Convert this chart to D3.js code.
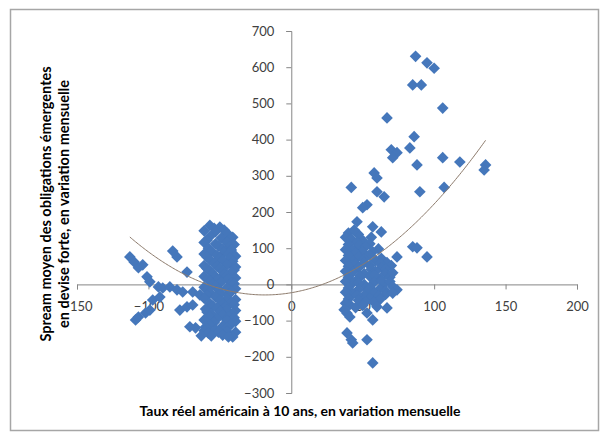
<!DOCTYPE html>
<html>
<head>
<meta charset="utf-8">
<script src="https://d3js.org/d3.v7.min.js"></script>
<style>
  body { margin: 0; background: #fff; }
  text { font-family: Lato, "Open Sans", sans-serif; }
</style>
</head>
<body>
<div id="graph1"></div>
<script>
// x = taux réel US 10 ans (variation mensuelle), y = spread EM (variation mensuelle)
const leftScatter = [
  [-113, 76], [-110, 62], [-107, 46], [-104, 54], [-101, 21], [-99, 7],
  [-83, 92], [-80, 76], [-73, 34],
  [-93, -7], [-90, -10], [-85, -7], [-80, -15], [-76, -21], [-69, -21], [-64, -29],
  [-109, -98], [-107, -90], [-102, -79], [-99, -71],
  [-97, -43], [-92, -35], [-78, -71], [-73, -62], [-69, -57],
  [-67, -120], [-71, -117]
]

const leftMass = [
  [-57, 163], [-50, 158], [-54, 155], [-47, 150],
  [-61, 148], [-53, 146], [-45, 142],
  [-57, 132], [-49, 128], [-41, 130], [-43, 125], [-59, 122],
  [-61, 116], [-53, 112], [-45, 116], [-40, 110], [-51, 106], [-43, 104],
  [-58, 100], [-48, 98], [-42, 95], [-56, 92], [-47, 88],
  [-61, 84], [-52, 80], [-44, 84], [-39, 78], [-59, 76], [-50, 72], [-43, 72],
  [-57, 68], [-48, 66], [-41, 64], [-54, 58], [-42, 56],
  [-61, 52], [-52, 50], [-45, 54], [-39, 48], [-59, 44], [-50, 44], [-40, 40],
  [-57, 38], [-48, 36], [-42, 34], [-55, 30], [-47, 28],
  [-61, 22], [-53, 20], [-45, 24], [-39, 18], [-58, 14], [-51, 14], [-44, 14],
  [-57, 8], [-49, 6], [-42, 4], [-40, 2], [-55, 0],
  [-61, -8], [-53, -5], [-45, -10], [-39, -12], [-59, -16], [-51, -14],
  [-57, -22], [-49, -25], [-42, -20], [-44, -28], [-59, -30],
  [-61, -38], [-53, -35], [-45, -40], [-39, -42], [-50, -44],
  [-57, -52], [-48, -55], [-42, -50], [-40, -56], [-55, -60], [-46, -62],
  [-60, -68], [-52, -65], [-45, -70], [-39, -72], [-59, -76], [-50, -75],
  [-56, -82], [-48, -85], [-41, -80], [-44, -90], [-57, -90], [-40, -92],
  [-61, -98], [-52, -95], [-45, -100], [-39, -102], [-54, -105],
  [-57, -112], [-48, -115], [-42, -110], [-60, -118], [-45, -120],
  [-61, -128], [-53, -125], [-45, -130], [-39, -132], [-51, -132], [-58, -135],
  [-56, -142], [-48, -140], [-41, -145], [-44, -145], [-63, -142]
]

const rightMass = [
  [40, 142], [47, 138], [44, 150], [38, 130],
  [42, 126], [50, 122], [56, 130], [46, 116],
  [40, 110], [47, 106], [55, 112], [52, 104],
  [43, 95], [50, 90], [61, 98], [38, 96], [57, 90], [45, 86],
  [40, 80], [47, 76], [55, 82], [63, 72], [51, 70],
  [43, 64], [51, 60], [59, 66], [67, 60], [38, 66], [62, 58], [45, 56],
  [40, 50], [47, 46], [55, 52], [63, 46], [70, 52], [56, 42], [66, 42],
  [43, 34], [51, 30], [59, 36], [66, 30], [38, 36],
  [40, 20], [47, 16], [55, 22], [62, 16], [69, 20], [48, 24], [58, 26],
  [43, 4], [51, 0], [58, 6], [65, 2], [38, 8], [47, 4], [63, 10], [69, 8],
  [40, -10], [47, -14], [55, -8], [62, -12], [71, -6], [54, -16], [66, -18],
  [43, -26], [51, -30], [58, -24], [66, -28], [38, -22], [46, -30], [61, -32],
  [40, -40], [47, -44], [55, -38], [62, -42], [52, -48], [58, -50],
  [41, -56], [50, -58], [38, -52], [45, -64], [39, -80]
]

const rightScatter = [
  [87, 630], [95, 612], [100, 597], [85, 551], [91, 551], [106, 487],
  [67, 460], [86, 408], [70, 372], [74, 364], [71, 350], [83, 377],
  [106, 350], [118, 338], [136, 330], [135, 316], [88, 330],
  [58, 308], [60, 294], [42, 268], [107, 268], [60, 256], [65, 242], [90, 256],
  [53, 220], [50, 212], [46, 173], [57, 159], [63, 145],
  [85, 104], [88, 101], [74, 76], [95, 76], [71, 32], [74, -15], [71, -24],
  [37, -70], [41, -90], [53, -79], [57, -98], [60, -62], [67, -65],
  [39, -134], [42, -153], [53, -153], [43, -162], [57, -217]
]

// polynomial (order 2) trendline as shown on the chart: c0 + c1*x + c2*x^2
const trendCoef = [-23, 0.661, 0.0179]

const xTicks = [-150, -100, -50, 0, 50, 100, 150, 200]
const yTicks = [-300, -200, -100, 0, 100, 200, 300, 400, 500, 600, 700]

const xTitle = "Taux réel américain à 10 ans, en variation mensuelle"
const yTitle1 = "Spream moyen des obligations émergentes"
const yTitle2 = "en devise forte, en variation mensuelle"

const width = 603, height = 437

let svg = d3.select("#graph1")
    .append("svg")
    .attr("width", width)
    .attr("height", height)

// chart frame
svg.append("rect")
    .attr("x", 10.5).attr("y", 9.5)
    .attr("width", 588).attr("height", 421)
    .attr("fill", "#fff")
    .attr("stroke", "#a6a6a6")
    .attr("stroke-width", 1.5)

let x = d3.scaleLinear().domain([-150, 200]).range([77, 577])
let y = d3.scaleLinear().domain([-300, 700]).range([393, 31])

const allPoints = leftScatter.concat(leftMass, rightMass, rightScatter)

// axes crossing at 0
let xAxis = svg.append("g")
    .attr("transform", `translate(0,${y(0)})`)
    .call(d3.axisBottom(x).tickValues(xTicks).tickSize(5).tickPadding(12).tickFormat(d3.format("d")))
let yAxis = svg.append("g")
    .attr("transform", `translate(${x(0)},0)`)
    .call(d3.axisLeft(y).tickValues(yTicks).tickSize(5).tickPadding(12).tickFormat(d3.format("d")))

;[xAxis, yAxis].forEach(function(g) {
    g.select(".domain").attr("stroke", "#868686")
    g.selectAll(".tick line").attr("stroke", "#868686")
    g.selectAll(".tick text")
        .attr("fill", "#404040")
        .style("font-size", "13px")
        .style("font-family", "Lato, sans-serif")
})

// points
let symbol = d3.symbol().type(d3.symbolSquare).size(68)
svg.append("g").selectAll("path")
    .data(allPoints)
    .enter()
    .append("path")
    .attr("d", symbol)
    .attr("transform", function(d) { return `translate(${x(d[0])},${y(d[1])}) rotate(45)` })
    .attr("fill", "#4577bb")

// trendline over the x range of the data
const xExtent = d3.extent(allPoints, function(d) { return d[0] })
const trend = d3.range(xExtent[0], xExtent[1] + 0.5, 1).map(function(v) {
    return [v, trendCoef[0] + trendCoef[1] * v + trendCoef[2] * v * v]
})
svg.append("path")
    .datum(trend)
    .attr("fill", "none")
    .attr("stroke", "#8c7a6b")
    .attr("stroke-width", 1)
    .attr("d", d3.line().x(function(d) { return x(d[0]) }).y(function(d) { return y(d[1]) }))

// axis titles
svg.append("text")
    .attr("x", 300).attr("y", 416)
    .attr("text-anchor", "middle")
    .style("font-size", "14px").style("font-weight", "bold")
    .text(xTitle)

let yt = svg.append("text")
    .attr("transform", "translate(51,204) rotate(-90)")
    .attr("text-anchor", "middle")
    .style("font-size", "14.5px").style("font-weight", "bold")
yt.append("tspan").attr("x", 0).attr("dy", 0).text(yTitle1)
yt.append("tspan").attr("x", 0).attr("dy", 18).text(yTitle2)
</script>
</body>
</html>
